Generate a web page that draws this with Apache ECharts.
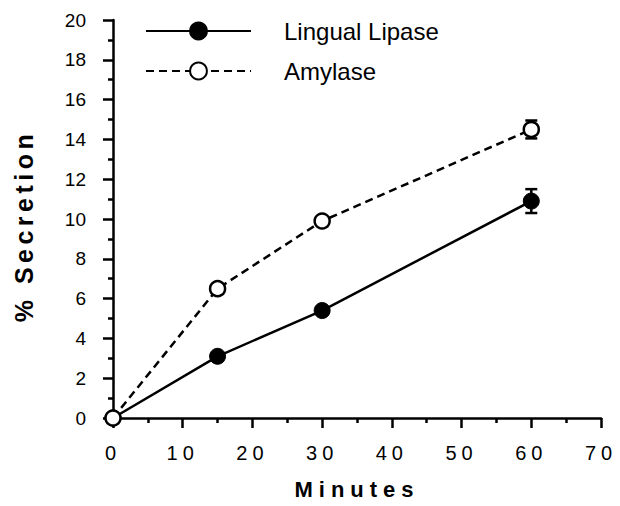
<!DOCTYPE html>
<html>
<head>
<meta charset="utf-8">
<script src="https://cdn.jsdelivr.net/npm/echarts@6/dist/echarts.min.js"></script>
<style>
  html, body { margin: 0; padding: 0; background: #fff; }
  #chart { width: 620px; height: 506px; }
</style>
</head>
<body>
<div id="chart"></div>
<script>
// minutes after stimulation
var minutes = [0, 15, 30, 60];
// % secretion
var lingualLipase = [0, 3.1, 5.4, 10.9];
var amylase = [0, 6.5, 9.9, 14.5];
// error bars (only visible at 60 min)
var lipaseErr = [0, 0, 0, 0.6];
var amylaseErr = [0, 0, 0, 0.45];
var xTickLabels = ['0', '10', '20', '30', '40', '50', '60', '70'];

function pairs(xs, ys) {
  return xs.map(function (x, i) { return [x, ys[i]]; });
}
function errData(xs, ys, es) {
  var out = [];
  xs.forEach(function (x, i) {
    if (es[i] > 0) out.push([x, ys[i] - es[i], ys[i] + es[i]]);
  });
  return out;
}
function renderErr(params, api) {
  var top = api.coord([api.value(0), api.value(2)]);
  var bot = api.coord([api.value(0), api.value(1)]);
  var half = 6;
  var st = { stroke: '#000', lineWidth: 2.5 };
  return {
    type: 'group',
    children: [
      { type: 'line', shape: { x1: top[0], y1: top[1], x2: bot[0], y2: bot[1] }, style: st },
      { type: 'line', shape: { x1: top[0] - half, y1: top[1], x2: top[0] + half, y2: top[1] }, style: st },
      { type: 'line', shape: { x1: bot[0] - half, y1: bot[1], x2: bot[0] + half, y2: bot[1] }, style: st }
    ]
  };
}

var chart = echarts.init(document.getElementById('chart'), null, { renderer: 'svg' });
var font = 'Liberation Sans, Arial, Helvetica, sans-serif';

var option = {
  backgroundColor: '#fff',
  animation: false,
  textStyle: { fontFamily: font, color: '#000' },
  grid: { left: 113, right: 19, top: 20, bottom: 88, containLabel: false },
  legend: {
    orient: 'vertical',
    left: 140,
    top: 14,
    itemWidth: 105,
    itemHeight: 21,
    itemGap: 16,
    data: ['Lingual Lipase', 'Amylase'],
    textStyle: { fontSize: 24, color: '#000', fontFamily: font, padding: [0, 0, 0, 28] }
  },
  xAxis: {
    type: 'value',
    min: 0,
    max: 70,
    interval: 10,
    name: 'Minutes',
    nameLocation: 'middle',
    nameGap: 60,
    nameTextStyle: { fontSize: 22, fontWeight: 'bold', color: '#000', fontFamily: font },
    axisLine: { show: true, onZero: false, lineStyle: { color: '#000', width: 2.5 } },
    axisTick: { show: true, inside: false, length: 10, lineStyle: { color: '#000', width: 2.5 } },
    minorTick: { show: true, splitNumber: 2, length: 5, lineStyle: { color: '#000', width: 2.5 } },
    axisLabel: { fontSize: 20, color: '#000', margin: 25, fontFamily: font },
    splitLine: { show: false }
  },
  yAxis: {
    type: 'value',
    min: 0,
    max: 20,
    interval: 2,
    name: '% Secretion',
    nameLocation: 'middle',
    nameGap: 77,
    nameRotate: 90,
    nameTextStyle: { fontSize: 25, fontWeight: 'bold', color: '#000', fontFamily: font, padding: [0, 14, 0, 0] },
    axisLine: { show: true, onZero: false, lineStyle: { color: '#000', width: 2.5 } },
    axisTick: { show: true, inside: false, length: 10, lineStyle: { color: '#000', width: 2.5 } },
    minorTick: { show: true, splitNumber: 2, length: 5, lineStyle: { color: '#000', width: 2.5 } },
    axisLabel: { fontSize: 19, color: '#000', margin: 27, fontFamily: font },
    splitLine: { show: false }
  },
  series: [
    {
      name: 'Lingual Lipase',
      type: 'line',
      data: pairs(minutes, lingualLipase),
      symbol: 'circle',
      symbolSize: 16,
      lineStyle: { color: '#000', width: 2.5, type: 'solid' },
      itemStyle: { color: '#000', borderColor: '#000', borderWidth: 1 },
      z: 3
    },
    {
      name: 'Lipase error',
      type: 'custom',
      data: errData(minutes, lingualLipase, lipaseErr),
      renderItem: renderErr,
      z: 2
    },
    {
      name: 'Amylase error',
      type: 'custom',
      data: errData(minutes, amylase, amylaseErr),
      renderItem: renderErr,
      z: 2
    },
    {
      name: 'Amylase',
      type: 'line',
      data: pairs(minutes, amylase),
      symbol: 'circle',
      symbolSize: 15,
      lineStyle: { color: '#000', width: 2.5, type: [8, 5] },
      itemStyle: { color: '#fff', borderColor: '#000', borderWidth: 2.5 },
      z: 4
    }
  ]
};
chart.setOption(option);

// the original typesetting is letter-spaced on the x labels and axis titles
function spaceOut() {
  var texts = document.querySelectorAll('#chart svg text');
  texts.forEach(function (t) {
    var s = t.textContent;
    if (s === 'Minutes') t.style.letterSpacing = '6px';
    else if (s === '% Secretion') t.style.letterSpacing = '4.5px';
    else if (xTickLabels.indexOf(s) >= 0 && t.getAttribute('text-anchor') === 'middle') t.style.letterSpacing = '5px';
  });
}
spaceOut();
chart.on('finished', spaceOut);
</script>
</body>
</html>
